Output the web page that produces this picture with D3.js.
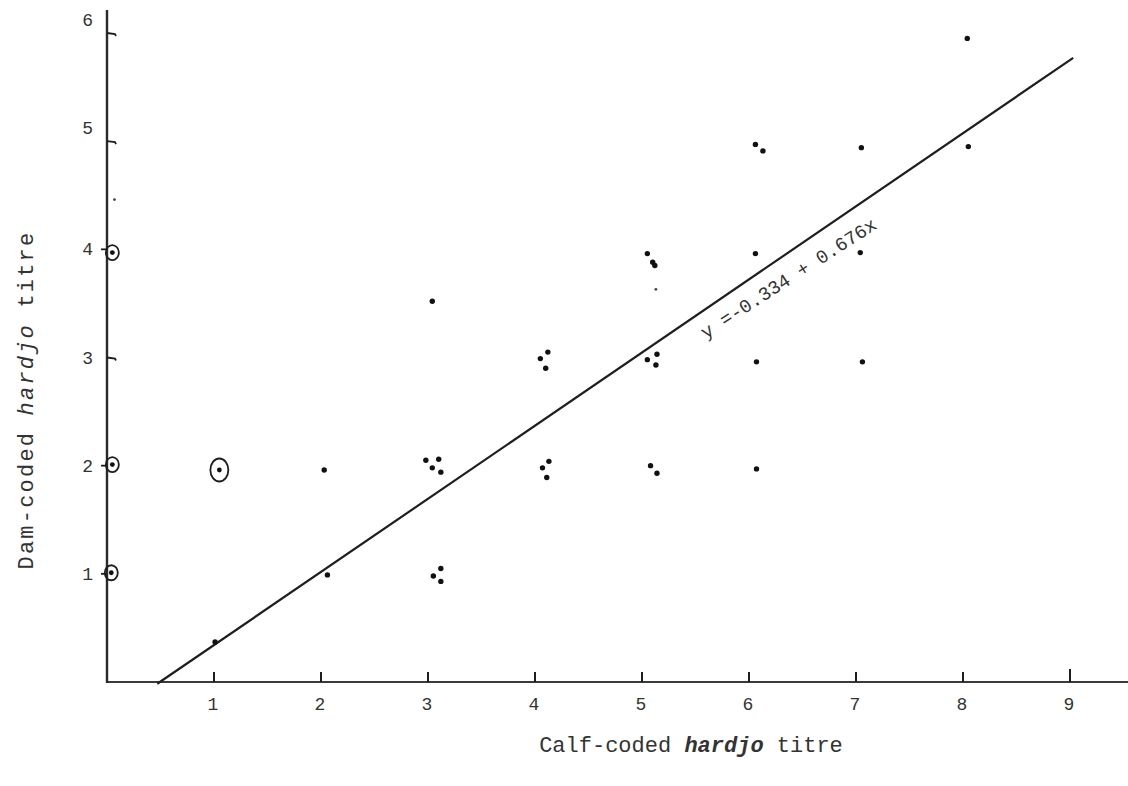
<!DOCTYPE html>
<html>
<head>
<meta charset="utf-8">
<script src="https://cdn.jsdelivr.net/npm/d3@7"></script>
<style>
  html, body { margin: 0; padding: 0; background: #fff; }
  svg { display: block; }
</style>
</head>
<body>
<svg id="chart" width="1128" height="786"></svg>
<script>
// Calf-coded vs dam-coded hardjo titres, with the fitted regression line.
// Each observation is one typed dot; repeated scores are spread into small clusters.
const calfTitre = [
  1.01, 2.03, 2.06,
  3.05, 3.12, 3.12,
  2.98, 3.10, 3.04, 3.12,
  3.04,
  4.05, 4.12, 4.10,
  4.13, 4.07, 4.11,
  5.05, 5.10, 5.12,
  5.14, 5.05, 5.13,
  5.08, 5.14,
  6.07, 6.07, 6.06, 6.06, 6.13,
  7.05, 7.04, 7.06,
  8.05, 8.04
];
const damTitre = [
  0.37, 1.96, 0.99,
  0.98, 1.05, 0.93,
  2.05, 2.06, 1.98, 1.94,
  3.52,
  2.99, 3.05, 2.90,
  2.04, 1.98, 1.89,
  3.96, 3.88, 3.85,
  3.03, 2.98, 2.93,
  2.00, 1.93,
  1.97, 2.96, 3.96, 4.97, 4.91,
  4.94, 3.97, 2.96,
  4.95, 5.95
];
// Faint, lightly struck marks
const faintCalf = [0.07, 5.13];
const faintDam  = [4.46, 3.63];
// Ringed observations
const ringCalf = [0.05, 0.05, 0.04, 1.05];
const ringDam  = [3.97, 2.01, 1.01, 1.96];

const xTicks = [1, 2, 3, 4, 5, 6, 7, 8, 9];
const yTicks = [1, 2, 3, 4, 5, 6];

// Fitted line y = a + b x
const intercept = -0.334;
const slope = 0.676;
const fitFrom = 0.47, fitTo = 9.03;
const fitLabel = "y =-0.334 + 0.676x";

const xTitle = ["Calf-coded ", "hardjo", " titre"];
const yTitle = ["Dam-coded ", "hardjo", " titre"];

const svg = d3.select("#chart");
const ink = "#1e1e1e";
const mono = "'Liberation Mono', 'Courier New', monospace";

const x = d3.scaleLinear().domain([0, 9]).range([107, 1070]);
const y = d3.scaleLinear().domain([0, 6]).range([682, 33]);

// Axes
svg.append("line")
  .attr("x1", x(0)).attr("x2", 1128)
  .attr("y1", y(0)).attr("y2", y(0))
  .attr("stroke", "#3a3a3a").attr("stroke-width", 2);
svg.append("line")
  .attr("x1", x(0)).attr("x2", x(0))
  .attr("y1", 10).attr("y2", y(0) + 1)
  .attr("stroke", "#2a2a2a").attr("stroke-width", 2.4);

// X ticks and labels
const xg = svg.append("g");
xg.selectAll("line").data(xTicks).join("line")
  .attr("x1", d => x(d)).attr("x2", d => x(d))
  .attr("y1", y(0)).attr("y2", d => y(0) - (d === 9 ? 13 : 10))
  .attr("stroke", ink).attr("stroke-width", 2);
xg.selectAll("text").data(xTicks).join("text")
  .attr("x", d => x(d) - 1).attr("y", y(0) + 28)
  .attr("text-anchor", "middle")
  .attr("font-family", mono).attr("font-size", 18)
  .attr("fill", "#333")
  .text(d => d);

// Y ticks and labels (marks struck to either side of the axis)
const rightSide = new Set([3, 5, 6]);
const yg = svg.append("g");
yg.selectAll("path").data(yTicks).join("path")
  .attr("d", d => rightSide.has(d)
    ? `M${x(0)},${y(d)} L${x(0) + 8},${y(d) + 1} l1,2`
    : `M${x(0) - 6},${y(d)} L${x(0)},${y(d)}`)
  .attr("fill", "none")
  .attr("stroke", ink).attr("stroke-width", 1.8);
yg.selectAll("text").data(yTicks).join("text")
  .attr("x", x(0) - 14).attr("y", d => y(d) + (d >= 5 ? -7 : 6))
  .attr("text-anchor", "end")
  .attr("font-family", mono).attr("font-size", 18)
  .attr("fill", "#333")
  .text(d => d);

// Regression line
svg.append("line")
  .attr("x1", x(fitFrom)).attr("y1", y(intercept + slope * fitFrom))
  .attr("x2", x(fitTo)).attr("y2", y(intercept + slope * fitTo))
  .attr("stroke", ink).attr("stroke-width", 2.2);

// Equation written beneath the line
const lx = 5.50;
const angle = -Math.atan(slope * (y(0) - y(1)) / (x(1) - x(0))) * 180 / Math.PI + 1.5;
svg.append("text")
  .attr("transform", `translate(${x(lx)},${y(intercept + slope * lx)}) rotate(${angle}) translate(-4,25)`)
  .attr("font-family", mono).attr("font-size", 19)
  .attr("fill", "#333")
  .text(fitLabel);

// Observations
const pts = d3.range(calfTitre.length).map(i => [calfTitre[i], damTitre[i]]);
svg.append("g").selectAll("circle").data(pts).join("circle")
  .attr("cx", d => x(d[0])).attr("cy", d => y(d[1]))
  .attr("r", 2.7).attr("fill", "#111");

const faint = d3.range(faintCalf.length).map(i => [faintCalf[i], faintDam[i]]);
svg.append("g").selectAll("circle").data(faint).join("circle")
  .attr("cx", d => x(d[0])).attr("cy", d => y(d[1]))
  .attr("r", 1.4).attr("fill", "#444");

const rings = d3.range(ringCalf.length).map(i => [ringCalf[i], ringDam[i]]);
const rg = svg.append("g");
rg.selectAll("circle").data(rings).join("circle")
  .attr("cx", d => x(d[0])).attr("cy", d => y(d[1]))
  .attr("r", 2.4).attr("fill", "#111");
rg.selectAll("ellipse").data(rings).join("ellipse")
  .attr("cx", d => x(d[0])).attr("cy", d => y(d[1]))
  .attr("rx", d => d[0] > 0.5 ? 9 : 6.5)
  .attr("ry", d => d[0] > 0.5 ? 11.5 : 7.5)
  .attr("fill", "none").attr("stroke", ink).attr("stroke-width", 1.8);

// Axis titles
const xt = svg.append("text")
  .attr("x", 691).attr("y", 752)
  .attr("text-anchor", "middle")
  .attr("font-family", mono).attr("font-size", 22)
  .attr("fill", "#333");
xt.selectAll("tspan").data(xTitle).join("tspan")
  .attr("font-style", (d, i) => i === 1 ? "italic" : null)
  .attr("font-weight", (d, i) => i === 1 ? "bold" : null)
  .text(d => d);

const yt = svg.append("text")
  .attr("transform", "translate(33,400) rotate(-90)")
  .attr("text-anchor", "middle")
  .attr("font-family", mono).attr("font-size", 22)
  .attr("letter-spacing", 2.2)
  .attr("fill", "#333");
yt.selectAll("tspan").data(yTitle).join("tspan")
  .attr("font-style", (d, i) => i === 1 ? "italic" : null)
  .text(d => d);
</script>
</body>
</html>
